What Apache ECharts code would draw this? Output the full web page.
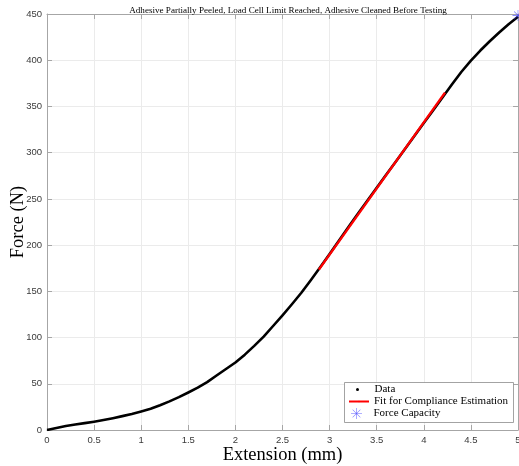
<!DOCTYPE html>
<html>
<head>
<meta charset="utf-8">
<script src="https://cdn.jsdelivr.net/npm/echarts@6/dist/echarts.min.js"></script>
<style>
  html, body { margin: 0; padding: 0; background: #fff; }
  #chart { width: 519px; height: 466px; }
</style>
</head>
<body>
<div id="chart"></div>
<script>
// Measured force vs. extension
const extension = [0.0, 0.1, 0.2, 0.3, 0.4, 0.5, 0.6, 0.7, 0.8, 0.9,
                   1.0, 1.1, 1.2, 1.3, 1.4, 1.5, 1.6, 1.7, 1.8, 1.9,
                   2.0, 2.1, 2.2, 2.3, 2.4, 2.5, 2.6, 2.7, 2.8, 2.9,
                   3.0, 3.1, 3.2, 3.3, 3.4, 3.5, 3.6, 3.7, 3.8, 3.9,
                   4.0, 4.1, 4.2, 4.3, 4.4, 4.5, 4.6, 4.7, 4.8, 4.9, 5.0];
const force = [0.0, 2.2, 4.3, 5.9, 7.4, 9.0, 10.8, 12.8, 15.0, 17.4,
               20.1, 23.0, 26.8, 31.0, 35.5, 40.6, 45.8, 51.8, 59.0, 66.0,
               73.0, 81.5, 91.0, 101.0, 112.5, 124.0, 136.0, 148.5, 162.0, 176.0,
               190.5, 205.0, 219.5, 234.0, 248.0, 262.0, 276.0, 290.0, 304.0, 318.0,
               332.0, 346.0, 360.0, 374.0, 387.5, 399.5, 410.5, 420.5, 430.0, 439.0, 447.0];

// Linear segment used for compliance estimation
const fitExtension = [2.886, 4.225];
const fitForce = [173.5, 365.0];

// Peak force reached
const capacityExtension = [5.0];
const capacityForce = [448.5];

const xTicks = { min: 0, max: 5, interval: 0.5 };
const yTicks = { min: 0, max: 450, interval: 50 };

const serif = '"Liberation Serif", "DejaVu Serif", serif';
const sans = '"Liberation Sans", Arial, sans-serif';
const axisGrey = '#a6a6a6';
const labelGrey = '#3a3a3a';

// Asterisk marker: vertical, horizontal and two diagonal strokes
const asterisk = 'path://M9.5,0 L10.5,0 L10.5,20 L9.5,20 Z M0,9.5 L20,9.5 L20,10.5 L0,10.5 Z ' +
  'M2.6,3.3 L3.3,2.6 L17.4,16.7 L16.7,17.4 Z M16.7,2.6 L17.4,3.3 L3.3,17.4 L2.6,16.7 Z';

const toPairs = (xs, ys) => xs.map((x, i) => [x, ys[i]]);

const chart = echarts.init(document.getElementById('chart'), null, { renderer: 'canvas' });

const baseX = {
  type: 'value', min: xTicks.min, max: xTicks.max, interval: xTicks.interval,
  axisLine: { show: true, onZero: false, lineStyle: { color: axisGrey, width: 1 } },
  axisTick: { show: true, inside: true, length: 5, lineStyle: { color: axisGrey } }
};
const baseY = {
  type: 'value', min: yTicks.min, max: yTicks.max, interval: yTicks.interval,
  axisLine: { show: true, onZero: false, lineStyle: { color: axisGrey, width: 1 } },
  axisTick: { show: true, inside: true, length: 5, lineStyle: { color: axisGrey } }
};

const legendText = { fontFamily: serif, fontSize: 11, color: '#000' };

chart.setOption({
  animation: false,
  backgroundColor: '#fff',
  title: {
    text: 'Adhesive Partially Peeled, Load Cell Limit Reached, Adhesive Cleaned Before Testing',
    left: 283, top: 1, textAlign: 'center',
    textStyle: { fontFamily: serif, fontSize: 9.1, fontWeight: 'normal', color: '#000' }
  },
  grid: { left: 47, right: 1, top: 14, bottom: 36, containLabel: false, outerBoundsMode: 'none' },
  xAxis: [
    Object.assign({}, baseX, {
      position: 'bottom',
      name: 'Extension (mm)', nameLocation: 'middle', nameGap: 15.5, nameMoveOverlap: false,
      nameTextStyle: { fontFamily: serif, fontSize: 18.5, color: '#000' },
      axisLabel: { fontFamily: sans, fontSize: 9.5, color: labelGrey, margin: 5 },
      splitLine: { show: true, lineStyle: { color: '#ebebeb', width: 1 } }
    }),
    Object.assign({}, baseX, {
      position: 'top',
      axisLabel: { show: false }, splitLine: { show: false }
    })
  ],
  yAxis: [
    Object.assign({}, baseY, {
      position: 'left',
      name: 'Force (N)', nameLocation: 'middle', nameGap: 19, nameMoveOverlap: false,
      nameTextStyle: { fontFamily: serif, fontSize: 18.5, color: '#000' },
      axisLabel: { fontFamily: sans, fontSize: 9.5, color: labelGrey, margin: 5 },
      splitLine: { show: true, lineStyle: { color: '#ebebeb', width: 1 } }
    }),
    Object.assign({}, baseY, {
      position: 'right',
      axisLabel: { show: false }, splitLine: { show: false }
    })
  ],
  legend: [
    {
      data: [{ name: 'Data', icon: 'circle' }],
      left: 356, top: 384, padding: 0, itemWidth: 24, itemHeight: 3, z: 12,
      selectedMode: false, textStyle: legendText
    },
    {
      data: [{ name: 'Fit for Compliance Estimation' }],
      left: 348, top: 396, padding: 0, itemWidth: 20, itemHeight: 2, z: 12,
      selectedMode: false, textStyle: legendText
    },
    {
      data: [{ name: 'Force Capacity', icon: asterisk }],
      left: 351, top: 408, padding: 0, itemWidth: 24, itemHeight: 11, z: 12,
      selectedMode: false, textStyle: legendText
    }
  ],
  graphic: [{
    type: 'rect', z: 10,
    shape: { x: 344.5, y: 382.5, width: 169, height: 40 },
    style: { fill: '#fff', stroke: '#8c8c8c', lineWidth: 0.8 }
  }],
  series: [
    {
      name: 'Data', type: 'line', data: toPairs(extension, force),
      smooth: false, showSymbol: false, symbol: 'circle',
      itemStyle: { color: '#000' },
      lineStyle: { color: '#000', width: 2.6, join: 'round' }, z: 2
    },
    {
      name: 'Fit for Compliance Estimation', type: 'line', data: toPairs(fitExtension, fitForce),
      showSymbol: false, symbol: 'none',
      itemStyle: { color: '#ff0000' },
      lineStyle: { color: '#ff0000', width: 2.4 }, z: 3
    },
    {
      name: 'Force Capacity', type: 'scatter', data: toPairs(capacityExtension, capacityForce),
      symbol: asterisk, symbolSize: 11, clip: false,
      itemStyle: { color: '#3b3bff' }, z: 4
    }
  ]
});
</script>
</body>
</html>
